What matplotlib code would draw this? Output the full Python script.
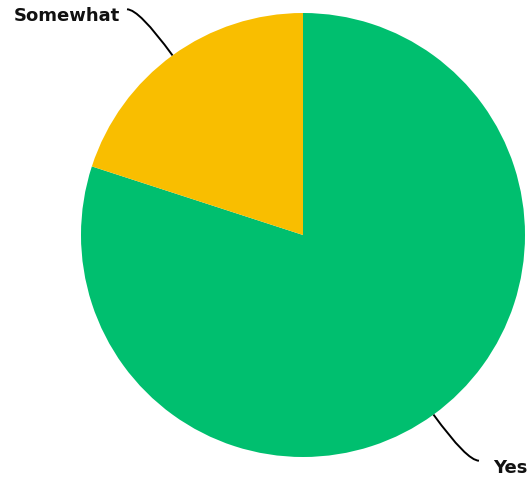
import numpy as np
import matplotlib.pyplot as plt
from matplotlib.path import Path
from matplotlib.patches import PathPatch

labels = ['Yes', 'Somewhat']
shares = [80, 20]
colors = ['#00BF6F', '#F9BE00']

W, H = 528, 478
cx, cy, R = 303, 243, 222

fig = plt.figure(figsize=(W / 100, H / 100), dpi=100)
ax = fig.add_axes([0, 0, 1, 1])

wedges, _ = ax.pie(shares, colors=colors, startangle=90, counterclock=False,
                   center=(cx, cy), radius=R, frame=True,
                   wedgeprops=dict(linewidth=0))
ax.set_xlim(0, W)
ax.set_ylim(0, H)
ax.set_aspect('equal')
ax.axis('off')

# leader lines: curve out from the middle of each wedge, then flatten horizontally
gaps = {'Yes': 14, 'Somewhat': 7}
for w, lab in zip(wedges, labels):
    mid = np.deg2rad((w.theta1 + w.theta2) / 2)
    ux, uy = np.cos(mid), np.sin(mid)
    side = 1 if ux > 0 else -1
    p0 = (cx + R * ux, cy + R * uy)
    p1 = (cx + (R + 57) * ux, cy + (R + 57) * uy)
    p2 = (p1[0] + side * 12, p1[1])
    path = Path([p0, p1, p2], [Path.MOVETO, Path.CURVE3, Path.CURVE3])
    ax.add_patch(PathPatch(path, fill=False, lw=1.4, color='black'))
    ax.text(p2[0] + side * gaps[lab], p2[1] - 7, lab,
            ha='left' if side > 0 else 'right', va='center',
            fontsize=13, fontweight='bold', family='DejaVu Sans', color='#111111')

fig.savefig('out.png', dpi=100)
